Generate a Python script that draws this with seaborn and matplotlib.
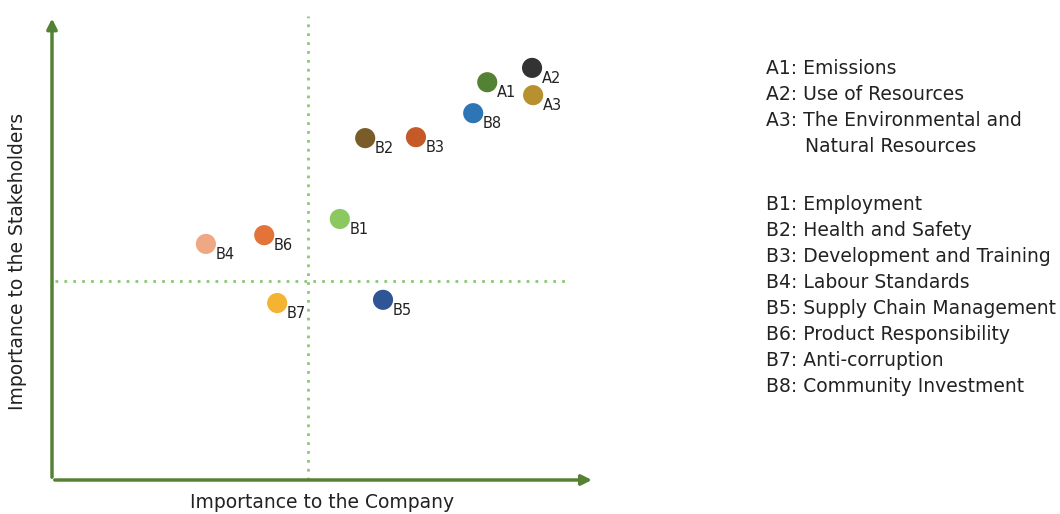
import matplotlib.pyplot as plt
import seaborn as sns
import pandas as pd

# Materiality matrix: importance to company (x) vs stakeholders (y), 0-10 scale
codes = ["A1", "A2", "A3", "B1", "B2", "B3", "B4", "B5", "B6", "B7", "B8"]
company = [8.06, 8.89, 8.91, 5.33, 5.80, 6.74, 2.85, 6.13, 3.93, 4.17, 7.80]
stakeholders = [8.61, 8.92, 8.33, 5.65, 7.40, 7.42, 5.11, 3.90, 5.30, 3.83, 7.94]
colors = ["#548235", "#333333", "#B8902F", "#8BC860", "#7A5C28", "#C55A28",
          "#EEA883", "#2F5597", "#E4733A", "#F4B331", "#2E75B6"]

a_names = ["A1: Emissions", "A2: Use of Resources",
           "A3: The Environmental and", "Natural Resources"]
b_names = ["B1: Employment", "B2: Health and Safety", "B3: Development and Training",
           "B4: Labour Standards", "B5: Supply Chain Management",
           "B6: Product Responsibility", "B7: Anti-corruption",
           "B8: Community Investment"]

company_split = 4.74
stake_split = 4.31

df = pd.DataFrame({"code": codes, "x": company, "y": stakeholders})

sns.set_style("white")
plt.rcParams["font.family"] = ["DejaVu Sans"]

fig = plt.figure(figsize=(10.6, 5.14), dpi=100)
ax = fig.add_axes([52 / 1060, 34 / 514, 540 / 1060, 462 / 514])

sns.scatterplot(data=df, x="x", y="y", hue="code", palette=dict(zip(codes, colors)),
                s=210, edgecolor="none", legend=False, ax=ax, zorder=3)

for c, x, y in zip(codes, company, stakeholders):
    ax.annotate(c, (x, y), xytext=(7, -7.5), textcoords="offset points",
                fontsize=10.5, color="#222222", va="center", ha="left")

# quadrant dividers
dot = dict(color="#8CC878", lw=2, ls=(0, (1, 2.2)), zorder=1, clip_on=False)
ax.plot([company_split, company_split], [0, 10.05], **dot)
ax.plot([0.06, 9.5], [stake_split, stake_split], **dot)

ax.set_xlim(0, 10)
ax.set_ylim(0, 10)
ax.set_xticks([])
ax.set_yticks([])
for s in ax.spines.values():
    s.set_visible(False)

arrow = dict(arrowstyle="-|>,head_length=0.6,head_width=0.3", color="#548235", lw=2.5)
ax.annotate("", xy=(1.005, 0), xytext=(0, 0), xycoords="axes fraction", arrowprops=arrow)
ax.annotate("", xy=(0, 1.005), xytext=(0, 0), xycoords="axes fraction", arrowprops=arrow)

ax.set_xlabel("Importance to the Company", fontsize=13.5, color="#222222")
ax.set_ylabel("Importance to the Stakeholders", fontsize=13.5, color="#222222")
ax.xaxis.set_label_coords(0.5, -0.028)
ax.yaxis.set_label_coords(-0.046, 0.472)

# legend text on the right
lx = 766 / 1060
for i, t in enumerate(a_names):
    x = lx if i < 3 else 805 / 1060
    fig.text(x, 1 - (69 + 26 * i) / 514, t, fontsize=13.5, color="#222222", va="center")
for i, t in enumerate(b_names):
    fig.text(lx, 1 - (205 + 26 * i) / 514, t, fontsize=13.5, color="#222222", va="center")

fig.savefig("out.png", dpi=100)
